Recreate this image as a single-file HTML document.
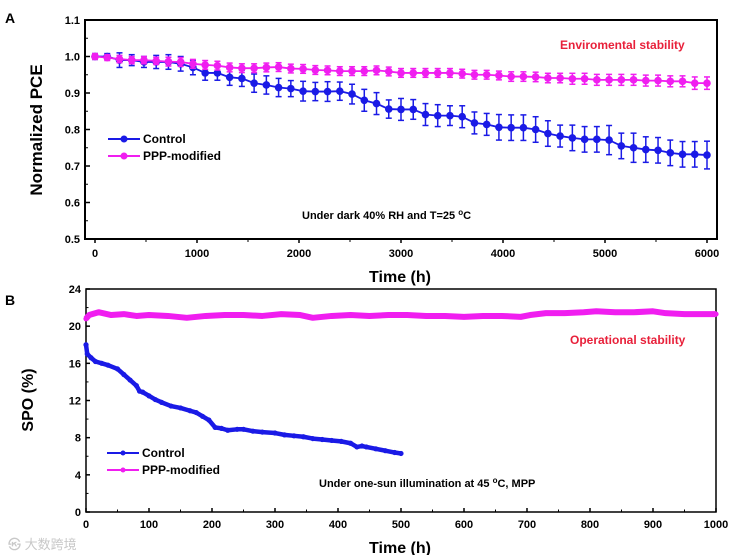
<!DOCTYPE html>
<html><head><meta charset="utf-8">
<style>
html,body{margin:0;padding:0;background:#fff;}
svg{display:block;font-family:"Liberation Sans",Arial,sans-serif;}
</style></head>
<body>
<svg id="fig" width="737" height="555" viewBox="0 0 737 555" xmlns="http://www.w3.org/2000/svg">
<text x="5" y="23" font-size="14" font-weight="bold">A</text>
<text x="5" y="305" font-size="14" font-weight="bold">B</text>
<text x="42" y="130" font-size="17" font-weight="bold" text-anchor="middle" transform="rotate(-90 42 130)">Normalized PCE</text>
<text x="400" y="282" font-size="16" font-weight="bold" text-anchor="middle">Time (h)</text>
<text x="33" y="400" font-size="16" font-weight="bold" text-anchor="middle" transform="rotate(-90 33 400)">SPO (%)</text>
<text x="400" y="553" font-size="16" font-weight="bold" text-anchor="middle">Time (h)</text>
<text x="560" y="49" font-size="12" font-weight="bold" fill="#e8203a">Enviromental stability</text>
<text x="302" y="219" font-size="11" font-weight="bold">Under dark 40% RH  and T=25 <tspan dy="-4" font-size="8">o</tspan><tspan dy="4">C</tspan></text>
<text x="570" y="344" font-size="12" font-weight="bold" fill="#e8203a">Operational stability</text>
<text x="319" y="487" font-size="11" font-weight="bold">Under one-sun illumination at 45 <tspan dy="-4" font-size="8">o</tspan><tspan dy="4">C, MPP</tspan></text>
<text x="8" y="549" font-size="13" fill="#c8c8c8" font-family="Liberation Sans, Noto Sans CJK SC, sans-serif">㉿ 大数跨境</text>
<g id="gA"></g><g id="gB"></g>
</svg>
<script>
// Panel A data
const timesA = [0,120,240,360,480,600,720,840,960,1080,1200,1320,1440,1560,1680,1800,1920,2040,2160,2280,2400,2520,2640,2760,2880,3000,3120,3240,3360,3480,3600,3720,3840,3960,4080,4200,4320,4440,4560,4680,4800,4920,5040,5160,5280,5400,5520,5640,5760,5880,6000];
const controlA = [1.0,1.0,0.99,0.99,0.985,0.985,0.985,0.98,0.97,0.955,0.955,0.943,0.94,0.927,0.922,0.915,0.912,0.905,0.904,0.904,0.905,0.897,0.88,0.871,0.856,0.855,0.855,0.841,0.838,0.838,0.835,0.818,0.814,0.806,0.805,0.805,0.8,0.789,0.782,0.777,0.773,0.773,0.771,0.755,0.75,0.745,0.743,0.736,0.732,0.732,0.73];
const controlErr = [0.008,0.008,0.02,0.015,0.015,0.018,0.02,0.02,0.02,0.02,0.02,0.022,0.022,0.025,0.025,0.025,0.022,0.027,0.025,0.027,0.025,0.027,0.03,0.03,0.025,0.03,0.027,0.03,0.03,0.027,0.03,0.03,0.03,0.035,0.035,0.035,0.035,0.035,0.03,0.035,0.035,0.035,0.04,0.035,0.04,0.035,0.035,0.035,0.035,0.035,0.038];
const pppA = [1.0,0.997,0.993,0.99,0.99,0.988,0.986,0.985,0.98,0.977,0.975,0.97,0.968,0.968,0.97,0.971,0.967,0.966,0.963,0.962,0.96,0.96,0.96,0.962,0.959,0.955,0.955,0.955,0.955,0.955,0.953,0.95,0.95,0.948,0.945,0.945,0.944,0.941,0.941,0.939,0.939,0.936,0.936,0.936,0.936,0.934,0.934,0.932,0.932,0.927,0.927];
const pppErr = [0.008,0.008,0.01,0.01,0.01,0.01,0.012,0.012,0.012,0.012,0.012,0.012,0.012,0.012,0.012,0.012,0.012,0.012,0.012,0.012,0.012,0.012,0.012,0.012,0.012,0.012,0.012,0.012,0.012,0.012,0.012,0.012,0.012,0.012,0.013,0.013,0.013,0.013,0.013,0.015,0.015,0.015,0.015,0.015,0.015,0.015,0.015,0.015,0.015,0.017,0.017];
const yTicksA = ["0.5","0.6","0.7","0.8","0.9","1.0","1.1"];
const xTicksA = ["0","1000","2000","3000","4000","5000","6000"];
// Panel B data
const timesBc = [0,2,8,15,25,35,50,60,70,80,85,90,100,110,120,135,150,165,175,185,195,205,215,225,240,250,265,280,300,315,330,345,360,375,390,405,420,430,438,445,460,475,490,500];
const controlB = [18,17,16.6,16.2,16,15.8,15.4,14.8,14.2,13.6,13,12.9,12.5,12.1,11.8,11.4,11.2,10.9,10.7,10.3,9.9,9.1,9,8.8,8.9,8.9,8.7,8.6,8.5,8.3,8.2,8.1,7.9,7.8,7.7,7.6,7.4,7.0,7.1,7.0,6.8,6.6,6.4,6.3];
const timesBp = [0,5,20,40,60,80,100,130,160,190,220,250,280,310,340,360,390,420,450,480,510,540,570,600,630,660,690,705,730,760,790,810,840,870,900,920,950,980,1000];
const pppB = [20.8,21.2,21.5,21.2,21.3,21.1,21.2,21.1,20.9,21.1,21.2,21.2,21.1,21.3,21.2,20.9,21.1,21.2,21.1,21.2,21.2,21.1,21.1,21.0,21.1,21.1,21.0,21.2,21.4,21.4,21.5,21.6,21.5,21.5,21.6,21.4,21.3,21.3,21.3];
const yTicksB = ["0","4","8","12","16","20","24"];
const xTicksB = ["0","100","200","300","400","500","600","700","800","900","1000"];

const NS="http://www.w3.org/2000/svg";
function mk(parent,tag,attrs){const e=document.createElementNS(NS,tag);for(const k in attrs)e.setAttribute(k,attrs[k]);parent.appendChild(e);return e;}

// ---- Panel A ----
const gA=document.getElementById('gA');
const L1=85,R1=717,T1=20,B1=239;
const xA=v=>95+(v/6000)*(707-95);
const yA=v=>B1-(v-0.5)/0.6*(B1-T1);
const frameA=mk(gA,'rect',{x:L1,y:T1,width:R1-L1,height:B1-T1,fill:'none',stroke:'#000','stroke-width':2});


yTicksA.forEach(t=>{const v=parseFloat(t),y=yA(v);
 mk(gA,'line',{x1:L1,x2:L1+5,y1:y,y2:y,stroke:'#000','stroke-width':1.5});
 const tx=mk(gA,'text',{x:L1-5,y:y+4,'font-size':11,'font-weight':'bold','text-anchor':'end'});tx.textContent=t;
 
 
 if(v<1.1)mk(gA,'line',{x1:L1,x2:L1+3,y1:yA(v+0.05),y2:yA(v+0.05),stroke:'#000','stroke-width':1});});
xTicksA.forEach(t=>{const v=parseFloat(t),x=xA(v);
 mk(gA,'line',{x1:x,x2:x,y1:B1,y2:B1+4,stroke:'#000','stroke-width':1.5});
 mk(gA,'line',{x1:xA(v+500),x2:xA(v+500),y1:B1,y2:B1+3,stroke:'#000','stroke-width':1});
 const tx=mk(gA,'text',{x:x,y:B1+18,'font-size':11,'font-weight':'bold','text-anchor':'middle'});tx.textContent=t;
 
 });
function seriesA(vals,errs,color,name){
 const g=mk(gA,'g',{});
 
 
 mk(g,'polyline',{points:timesA.map((t,i)=>xA(t)+','+yA(vals[i])).join(' '),fill:'none',stroke:color,'stroke-width':1.8});
 timesA.forEach((t,i)=>{const x=xA(t),y1=yA(vals[i]+errs[i]),y2=yA(vals[i]-errs[i]);
  mk(g,'line',{x1:x,x2:x,y1:y1,y2:y2,stroke:color,'stroke-width':1.5});
  mk(g,'line',{x1:x-3,x2:x+3,y1:y1,y2:y1,stroke:color,'stroke-width':1.5});
  mk(g,'line',{x1:x-3,x2:x+3,y1:y2,y2:y2,stroke:color,'stroke-width':1.5});
  const c=mk(g,'circle',{cx:x,cy:yA(vals[i]),r:3.8,fill:color});
  
  });
}
seriesA(controlA,controlErr,'#1a1ae6','control-series-a');
seriesA(pppA,pppErr,'#f01ef0','ppp-series-a');
function legend(g,x,y,color,label,name,r){
 const lg=mk(g,'g',{});
 
 
 mk(lg,'line',{x1:x,x2:x+32,y1:y,y2:y,stroke:color,'stroke-width':2});
 mk(lg,'circle',{cx:x+16,cy:y,r:r,fill:color});
 const t=mk(lg,'text',{x:x+35,y:y+4,'font-size':12,'font-weight':'bold'});t.textContent=label;
}
legend(gA,108,139,'#1a1ae6','Control','legend-control-a',3.5);
legend(gA,108,156,'#f01ef0','PPP-modified','legend-ppp-a',3.5);

// ---- Panel B ----
const gB=document.getElementById('gB');
const L2=86,R2=716,T2=289,B2=512;
const xB=v=>L2+(v/1000)*(R2-L2);
const yB=v=>B2-(v/24)*(B2-T2);
const frameB=mk(gB,'rect',{x:L2,y:T2,width:R2-L2,height:B2-T2,fill:'none',stroke:'#000','stroke-width':1.5});


yTicksB.forEach(t=>{const v=parseFloat(t),y=yB(v);
 mk(gB,'line',{x1:L2,x2:L2+4,y1:y,y2:y,stroke:'#000','stroke-width':1.5});
 if(v<24)mk(gB,'line',{x1:L2,x2:L2+2.5,y1:yB(v+2),y2:yB(v+2),stroke:'#000','stroke-width':1});
 const tx=mk(gB,'text',{x:L2-5,y:y+4,'font-size':11,'font-weight':'bold','text-anchor':'end'});tx.textContent=t;
 
 });
xTicksB.forEach(t=>{const v=parseFloat(t),x=xB(v);
 mk(gB,'line',{x1:x,x2:x,y1:B2,y2:B2-4,stroke:'#000','stroke-width':1.5});
 if(v<1000)mk(gB,'line',{x1:xB(v+50),x2:xB(v+50),y1:B2,y2:B2-2.5,stroke:'#000','stroke-width':1});
 const tx=mk(gB,'text',{x:x,y:B2+16,'font-size':11,'font-weight':'bold','text-anchor':'middle'});tx.textContent=t;
 
 });
function seriesB(ts,vals,color,name,w){
 const g=mk(gB,'g',{});
 
 
 mk(g,'polyline',{points:ts.map((t,i)=>xB(t)+','+yB(vals[i])).join(' '),fill:'none',stroke:color,'stroke-width':w,'stroke-linejoin':'round'});
 ts.forEach((t,i)=>{const c=mk(g,'circle',{cx:xB(t),cy:yB(vals[i]),r:2.6,fill:color});
  
  });
}
seriesB(timesBp,pppB,'#f01ef0','ppp-series-b',6);
seriesB(timesBc,controlB,'#1a1ae6','control-series-b',4.5);
legend(gB,107,453,'#1a1ae6','Control','legend-control-b',2.5);
legend(gB,107,470,'#f01ef0','PPP-modified','legend-ppp-b',2.5);
</script>
</body></html>
